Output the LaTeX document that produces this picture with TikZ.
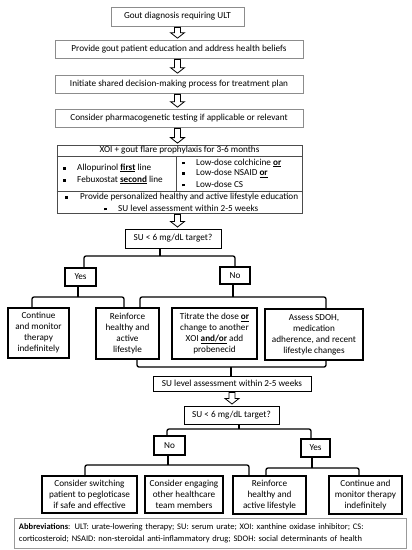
\documentclass[tikz,border=0pt]{standalone}
\usepackage{fontspec}
\setmainfont{Carlito}
\usetikzlibrary{calc}
\newcommand\sqb{\rule[0.7pt]{2.5pt}{2.5pt}}
\newcommand\harrow[2]{\draw[hollowarr] let \p1=(#1), \p2=(#2) in
  (\x1-3pt,\y1-1pt) -- (\x1+3pt,\y1-1pt) -- (\x1+3pt,\y2+7pt) -- (\x1+7pt,\y2+7pt)
  -- (\x1,\y2+1.5pt) -- (\x1-7pt,\y2+7pt) -- (\x1-3pt,\y2+7pt) -- cycle;}
\begin{document}
\begin{tikzpicture}[x=1pt,y=-1pt,
  every node/.style={font=\fontsize{9.2}{11}\selectfont, text=black},
  topbox/.style={draw=black!45, line width=0.7pt, inner sep=0pt, align=center},
  rowbox/.style={draw=black, line width=1.1pt, inner sep=0pt, align=center,
     font=\fontsize{9.2}{11}\selectfont},
  brk/.style={line width=1.3pt, rounded corners=2pt},
  hollowarr/.style={draw=black, line width=0.8pt, fill=white, line join=miter},
  itm/.style={anchor=west, inner sep=0pt}]
\useasboundingbox (0,0) rectangle (412,550);
\fill[white] (0,0) rectangle (412,550);

% top chain
\node[topbox, minimum width=133pt, minimum height=19pt] (b1) at (177.5,16.5) {Gout diagnosis requiring ULT};
\node[topbox, minimum width=248pt, minimum height=18pt] (b2) at (179,49) {Provide gout patient education and address health beliefs};
\node[topbox, minimum width=248pt, minimum height=18pt] (b3) at (179,84) {Initiate shared decision-making process for treatment plan};
\node[topbox, minimum width=248pt, minimum height=18pt] (b4) at (179,118) {Consider pharmacogenetic testing if applicable or relevant};

% XOI box
\node[draw=black!70, line width=0.8pt, minimum width=245pt, minimum height=68pt, inner sep=0pt] (xoi) at (179.5,179) {};
\draw[draw=black!70, line width=0.8pt] (xoi.west |- 0,156) -- (xoi.east |- 0,156);
\draw[draw=black!70, line width=0.8pt] (xoi.west |- 0,191) -- (xoi.east |- 0,191);
\draw[draw=black!70, line width=0.8pt] (176,156) -- (176,191);
\node[inner sep=0pt] (xh) at (179.5,150.5) {XOI + gout flare prophylaxis for 3-6 months};
\node[itm] (xl1) at (63,168) {\makebox[14pt][l]{\sqb}Allopurinol \underline{\textbf{first}} line};
\node[itm] (xl2) at (63,180) {\makebox[14pt][l]{\sqb}Febuxostat \underline{\textbf{second}} line};
\node[itm] (xr1) at (182,163) {\makebox[14pt][l]{\sqb}Low-dose colchicine \underline{\textbf{or}}};
\node[itm] (xr2) at (182,173.5) {\makebox[14pt][l]{\sqb}Low-dose NSAID \underline{\textbf{or}}};
\node[itm] (xr3) at (182,184) {\makebox[14pt][l]{\sqb}Low-dose CS};
\node[itm] (xb1) at (65,197) {\makebox[15pt][l]{\sqb}Provide personalized healthy and active lifestyle education};
\node[itm] (xb2) at (104,208) {\makebox[14pt][l]{\sqb}SU level assessment within 2-5 weeks};

% decision 1
\node[draw=black, line width=1pt, minimum width=96pt, minimum height=19pt, inner sep=0pt] (su1) at (173,238.5) {SU < 6 mg/dL target?};
\node[rowbox, minimum width=31pt, minimum height=18pt] (yes1) at (80.5,277) {Yes};
\node[rowbox, minimum width=30pt, minimum height=17pt] (no1) at (235,275.5) {No};

% row 1
\node[rowbox, minimum width=61pt, minimum height=50pt] (r1a) at (38.5,333) {Continue\\and monitor\\therapy\\indefinitely};
\node[rowbox, minimum width=63pt, minimum height=51pt] (r1b) at (127.5,333.5) {Reinforce\\healthy and\\active\\lifestyle};
\node[rowbox, minimum width=85pt, minimum height=51pt] (r1c) at (214.5,333.5) {Titrate the dose \underline{\textbf{or}}\\change to another\\XOI \underline{\textbf{and/or}} add\\probenecid};
\node[rowbox, minimum width=98pt, minimum height=51pt] (r1d) at (314,334.5) {Assess SDOH,\\medication\\adherence, and recent\\lifestyle changes};

\node[draw=black, line width=1pt, minimum width=158pt, minimum height=15pt, inner sep=0pt] (sul) at (232,383.5) {SU level assessment within 2-5 weeks};

% decision 2
\node[draw=black, line width=1pt, minimum width=95pt, minimum height=18pt, inner sep=0pt] (su2) at (231.5,415) {SU < 6 mg/dL target?};
\node[rowbox, minimum width=31pt, minimum height=19pt] (no2) at (169.5,445.5) {No};
\node[rowbox, minimum width=29pt, minimum height=18pt] (yes2) at (315.5,448) {Yes};

% row 2
\node[rowbox, minimum width=95pt, minimum height=37pt] (sw) at (89.5,494.5) {Consider switching\\patient to pegloticase\\if safe and effective};
\node[rowbox, minimum width=78pt, minimum height=37pt] (eng) at (184,494.5) {Consider engaging\\other healthcare\\team members};
\node[rowbox, minimum width=73pt, minimum height=38pt] (rein2) at (269.5,495) {Reinforce\\healthy and\\active lifestyle};
\node[rowbox, minimum width=73pt, minimum height=38pt] (cont2) at (365.5,495) {Continue and\\monitor therapy\\indefinitely};

% abbreviations
\node[draw=black!40, line width=0.7pt, minimum width=392pt, minimum height=30pt, text width=382pt, inner xsep=5pt, inner ysep=0pt, align=left, font=\fontsize{8.5}{11.5}\selectfont] (abbr) at (210,533) {\textbf{Abbreviations}: ULT: urate-lowering therapy; SU: serum urate; XOI: xanthine oxidase inhibitor; CS:\\corticosteroid; NSAID: non-steroidal anti-inflammatory drug; SDOH: social determinants of health};

% hollow arrows
\harrow{b1.south}{b1.south |- b2.north}
\harrow{b1.south |- b2.south}{b1.south |- b3.north}
\harrow{b1.south |- b3.south}{b1.south |- b4.north}
\harrow{b1.south |- b4.south}{b1.south |- xoi.north}
\harrow{b1.south |- xoi.south}{b1.south |- su1.north}
\harrow{sul.south}{sul.south |- su2.north}

% brackets
\coordinate (j1) at (160,256);
\draw[brk] (j1 |- su1.south) -- (j1);
\draw[brk] ([xshift=3.5pt]yes1.north) |- (j1) -| (no1.north);
\coordinate (j2) at (78,297);
\draw[brk] (j2 |- yes1.south) -- (j2);
\draw[brk] ([xshift=-6.5pt]r1a.north) |- (j2) -| ([xshift=-3.5pt]r1b.north);
\coordinate (j3) at (233,297);
\draw[brk] (j3 |- no1.south) -- (j3);
\draw[brk] ([xshift=12.5pt]r1b.north) |- (j3) -| ([xshift=12pt]r1d.north);
\coordinate (j4) at (231,367);
\draw[brk] ([xshift=9.5pt]r1b.south) |- (j4) -| ([xshift=12pt]r1d.south);
\draw[brk] (j4) -- (j4 |- sul.north);
\coordinate (j5) at (239,429);
\draw[brk] (j5 |- su2.south) -- (j5);
\draw[brk] ([xshift=-2.5pt]no2.north) |- (j5) -| ([xshift=-4.5pt]yes2.north);
\coordinate (j6) at (168,465);
\draw[brk] (j6 |- no2.south) -- (j6);
\draw[brk] ([xshift=-4.5pt]sw.north) |- (j6) -| ([xshift=-20.5pt]rein2.north);
\coordinate (j7) at (312,468);
\draw[brk] (j7 |- yes2.south) -- (j7);
\draw[brk] ([xshift=-3.5pt]rein2.north) |- (j7) -| ([xshift=-6.5pt]cont2.north);
\end{tikzpicture}
\end{document}
